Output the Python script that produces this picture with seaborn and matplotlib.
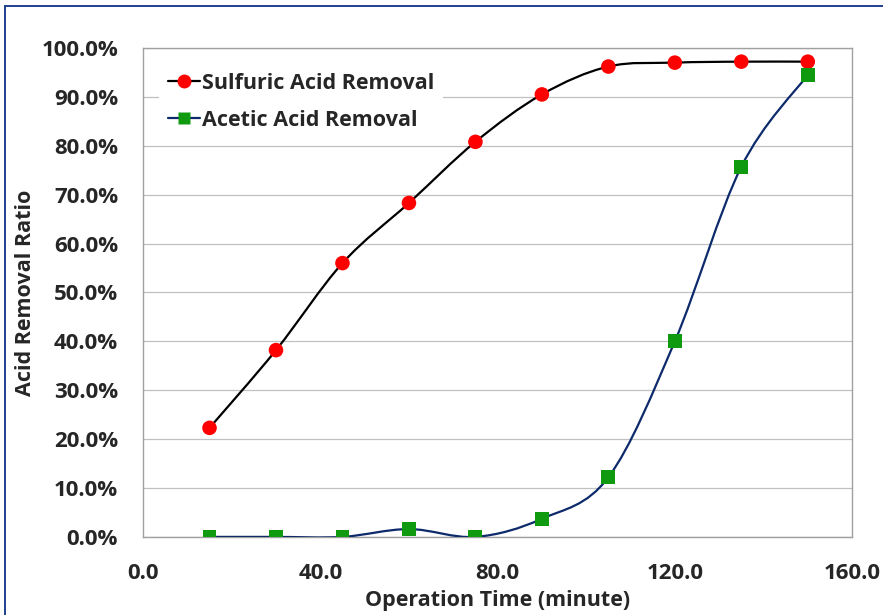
import numpy as np
import pandas as pd
import seaborn as sns
import matplotlib.pyplot as plt
from matplotlib.path import Path
from matplotlib.patches import PathPatch
from matplotlib.lines import Line2D
from matplotlib.ticker import FuncFormatter, MultipleLocator

time_min = [15, 30, 45, 60, 75, 90, 105, 120, 135, 150]
sulfuric = [22.3, 38.2, 56.0, 68.3, 80.8, 90.5, 96.2, 97.0, 97.2, 97.2]
acetic = [0.0, 0.0, 0.0, 1.6, 0.0, 3.7, 12.2, 40.0, 75.7, 94.5]
series_names = ["Sulfuric Acid Removal", "Acetic Acid Removal"]


def smoothPath(xs, ys):
    # excel style smoothed line, bezier segments through the points
    pts = np.column_stack([xs, ys]).astype(float)
    verts = [pts[0]]
    codes = [Path.MOVETO]
    n = len(pts)
    for i in range(n - 1):
        p0 = pts[i - 1] if i > 0 else pts[i]
        p1 = pts[i]
        p2 = pts[i + 1]
        p3 = pts[i + 2] if i + 2 < n else pts[i + 1]
        c1 = p1 + (p2 - p0) / 6.0
        c2 = p2 - (p3 - p1) / 6.0
        verts += [c1, c2, p2]
        codes += [Path.CURVE4] * 3
    return Path(verts, codes)


df = pd.DataFrame({"time": time_min, "sulfuric": sulfuric, "acetic": acetic})

sns.set_style("white")
plt.rcParams['font.family'] = ['Open Sans', 'DejaVu Sans']
plt.rcParams['font.weight'] = 'bold'

fig = plt.figure(figsize=(8.83, 6.15), dpi=100)
ax = fig.add_axes([0.162, 0.127, 0.803, 0.795])

ax.add_patch(PathPatch(smoothPath(df["time"], df["sulfuric"]), fill=False,
                       edgecolor="black", lw=1.6, zorder=3))
ax.add_patch(PathPatch(smoothPath(df["time"], df["acetic"]), fill=False,
                       edgecolor="#0d2a6b", lw=1.6, zorder=3))

sns.scatterplot(data=df, x="time", y="sulfuric", marker="o", s=110,
                color="#ff0000", edgecolor="none", ax=ax, zorder=4)
sns.scatterplot(data=df, x="time", y="acetic", marker="s", s=100,
                color="#109a10", edgecolor="none", ax=ax, zorder=4)

ax.set_xlim(0, 160)
ax.set_ylim(0, 100)
ax.xaxis.set_major_locator(MultipleLocator(40))
ax.yaxis.set_major_locator(MultipleLocator(10))
ax.xaxis.set_major_formatter(FuncFormatter(lambda v, p: "%.1f" % v))
ax.yaxis.set_major_formatter(FuncFormatter(lambda v, p: "%.1f%%" % v))
ax.grid(True, axis="y", color="#c0c0c0", lw=0.9)
ax.set_axisbelow(True)
for sp in ax.spines.values():
    sp.set_color("#a0a0a0")
    sp.set_linewidth(1.0)
ax.tick_params(axis="both", which="major", direction="out", length=7,
               color="#a0a0a0", labelsize=16, pad=11)
ax.tick_params(axis="x", pad=12)
for lab in ax.get_xticklabels() + ax.get_yticklabels():
    lab.set_fontweight("bold")

ax.set_xlabel("Operation Time (minute)", fontsize=15.5, fontweight="bold", labelpad=4)
ax.set_ylabel("Acid Removal Ratio", fontsize=15.5, fontweight="bold", labelpad=4)

handles = [
    Line2D([], [], color="black", lw=1.6, marker="o", markersize=10,
           markerfacecolor="#ff0000", markeredgecolor="none"),
    Line2D([], [], color="#0d2a6b", lw=1.6, marker="s", markersize=9,
           markerfacecolor="#109a10", markeredgecolor="none"),
]
leg = ax.legend(handles, series_names, loc="upper left", bbox_to_anchor=(0.0, 1.0),
                frameon=True, fancybox=False, edgecolor="none", facecolor="white",
                framealpha=1.0, handlelength=1.5, handletextpad=0.1,
                borderaxespad=0.75, labelspacing=0.75,
                prop={"size": 15.5, "weight": "bold"})

# slide frame lines
fig.add_artist(Line2D([0.006, 0.006], [0.0, 0.99], color="#1f3f8f", lw=1.4,
                      transform=fig.transFigure))
fig.add_artist(Line2D([0.006, 1.0], [0.99, 0.99], color="#1f3f8f", lw=1.4,
                      transform=fig.transFigure))

fig.savefig("out.png", dpi=100, facecolor="white")
